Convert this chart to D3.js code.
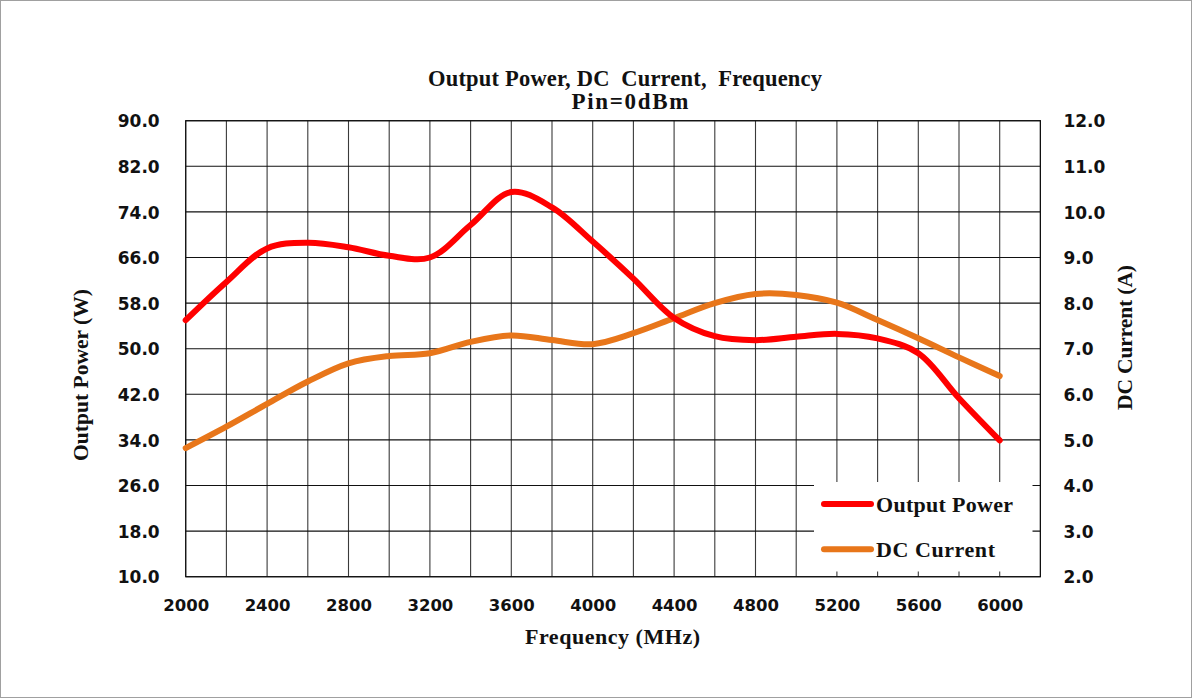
<!DOCTYPE html>
<html>
<head>
<meta charset="utf-8">
<script src="https://cdn.jsdelivr.net/npm/d3@7"></script>
<style>
  html, body { margin: 0; padding: 0; background: #fff; }
  svg { display: block; }
</style>
</head>
<body>
<svg id="chart" width="1192" height="698"></svg>
<script>
// ---- data ----
const frequency = [2000, 2200, 2400, 2600, 2800, 3000, 3200, 3400, 3600, 3800, 4000, 4200, 4400, 4600, 4800, 5000, 5200, 5400, 5600, 5800, 6000];
const outputPower = [55.0, 61.7, 67.6, 68.6, 67.8, 66.3, 66.0, 71.7, 77.5, 74.8, 68.8, 62.3, 55.4, 52.2, 51.5, 52.1, 52.6, 51.8, 49.2, 41.3, 33.9];
const dcCurrent = [4.82, 5.29, 5.79, 6.28, 6.68, 6.84, 6.90, 7.15, 7.29, 7.19, 7.10, 7.34, 7.67, 8.00, 8.20, 8.18, 8.01, 7.63, 7.23, 6.81, 6.40];
const xTickLabels = [2000, 2400, 2800, 3200, 3600, 4000, 4400, 4800, 5200, 5600, 6000];
const leftTickLabels = [10, 18, 26, 34, 42, 50, 58, 66, 74, 82, 90];
const rightTickLabels = [2, 3, 4, 5, 6, 7, 8, 9, 10, 11, 12];
const seriesNames = ["Output Power", "DC Current"];
const titleLines = ["Output Power,\u00A0DC\u00A0\u00A0Current,\u00A0\u00A0Frequency", "Pin=0dBm"];
const xTitle = "Frequency (MHz)";
const yLeftTitle = "Output Power (W)";
const yRightTitle = "DC Current (A)";

// ---- layout ----
const svg = d3.select("#chart");
const W = 1192, H = 698;
const L = 185.7, R = 1040.4, T = 120.7, B = 576.7;
const red = "#ff0000", orange = "#e8761a";
const serif = "'Liberation Serif','Times New Roman',serif";
const sans = "'DejaVu Sans',Verdana,sans-serif";

svg.append("rect").attr("x", 0.5).attr("y", 0.5).attr("width", W - 1).attr("height", H - 1)
  .attr("fill", "#fff").attr("stroke", "#a0a0a0");

const x = d3.scaleLinear().domain([2000, 6200]).range([L, R]);
const yL = d3.scaleLinear().domain([10, 90]).range([B, T]);
const yR = d3.scaleLinear().domain([2, 12]).range([B, T]);

// grid
const g = svg.append("g");
g.selectAll("line.v").data(d3.range(2000, 6201, 200)).join("line")
  .attr("x1", d => x(d)).attr("x2", d => x(d)).attr("y1", T).attr("y2", B)
  .attr("stroke", "#3a3a3a").attr("stroke-width", 1.1);
g.selectAll("line.h").data(leftTickLabels).join("line")
  .attr("x1", L).attr("x2", R).attr("y1", d => yL(d)).attr("y2", d => yL(d))
  .attr("stroke", "#111").attr("stroke-width", 1.1);
svg.append("rect").attr("x", L).attr("y", T).attr("width", R - L).attr("height", B - T)
  .attr("fill", "none").attr("stroke", "#111").attr("stroke-width", 1.2);

// axes (labels only)
const axB = d3.axisBottom(x).tickValues(xTickLabels).tickSize(0).tickPadding(0).tickFormat(d3.format("d"));
const gx = svg.append("g").attr("transform", `translate(0,${B})`).call(axB);
gx.select(".domain").remove();
gx.selectAll("text").attr("dy", 0).attr("y", 34).attr("font-family", sans).attr("font-weight", "bold")
  .attr("font-size", 16.5).attr("fill", "#111");

const axL = d3.axisLeft(yL).tickValues(leftTickLabels).tickSize(0).tickPadding(0).tickFormat(d3.format(".1f"));
const gl = svg.append("g").attr("transform", `translate(${L},0)`).call(axL);
gl.select(".domain").remove();
gl.selectAll("text").attr("x", -26).attr("dy", "0.36em").attr("font-family", sans).attr("font-weight", "bold")
  .attr("font-size", 17).attr("fill", "#111");

const axR = d3.axisRight(yR).tickValues(rightTickLabels).tickSize(0).tickPadding(0).tickFormat(d3.format(".1f"));
const gr = svg.append("g").attr("transform", `translate(${R},0)`).call(axR);
gr.select(".domain").remove();
gr.selectAll("text").attr("x", 23).attr("dy", "0.36em").attr("font-family", sans).attr("font-weight", "bold")
  .attr("font-size", 17).attr("fill", "#111");

// lines
const curve = d3.curveCatmullRom.alpha(0.5);
const powerLine = d3.line().x((d, i) => x(frequency[i])).y(d => yL(d)).curve(curve);
const currentLine = d3.line().x((d, i) => x(frequency[i])).y(d => yR(d)).curve(curve);
svg.append("path").attr("d", currentLine(dcCurrent)).attr("fill", "none")
  .attr("stroke", orange).attr("stroke-width", 6).attr("stroke-linecap", "round").attr("stroke-linejoin", "round");
svg.append("path").attr("d", powerLine(outputPower)).attr("fill", "none")
  .attr("stroke", red).attr("stroke-width", 6).attr("stroke-linecap", "round").attr("stroke-linejoin", "round");

// legend
const lg = svg.append("g");
lg.append("rect").attr("x", 814).attr("y", 482).attr("width", 218.5).attr("height", 89.5).attr("fill", "#fff");
const legendY = [504, 549.3];
const legendColors = [red, orange];
const legendW = [137, 119];
seriesNames.forEach((name, i) => {
  lg.append("line").attr("x1", 824).attr("x2", 871).attr("y1", legendY[i]).attr("y2", legendY[i])
    .attr("stroke", legendColors[i]).attr("stroke-width", 6).attr("stroke-linecap", "round");
  lg.append("text").attr("x", 876).attr("y", legendY[i] + 7.5).text(name)
    .attr("font-family", serif).attr("font-weight", "bold").attr("font-size", 22).attr("fill", "#111")
    .attr("textLength", legendW[i]).attr("lengthAdjust", "spacing");
});

// titles
svg.append("text").attr("x", 625).attr("y", 85.5).attr("text-anchor", "middle").text(titleLines[0])
  .attr("font-family", serif).attr("font-weight", "bold").attr("font-size", 22.5).attr("fill", "#111")
  .attr("textLength", 394).attr("lengthAdjust", "spacing");
svg.append("text").attr("x", 630).attr("y", 109).attr("text-anchor", "middle").text(titleLines[1])
  .attr("font-family", serif).attr("font-weight", "bold").attr("font-size", 23).attr("fill", "#111")
  .attr("textLength", 117).attr("lengthAdjust", "spacing");
svg.append("text").attr("x", 612.5).attr("y", 643.5).attr("text-anchor", "middle").text(xTitle)
  .attr("font-family", serif).attr("font-weight", "bold").attr("font-size", 22).attr("fill", "#111")
  .attr("textLength", 175).attr("lengthAdjust", "spacing");
svg.append("text").attr("transform", "translate(88,375) rotate(-90)").attr("text-anchor", "middle").text(yLeftTitle)
  .attr("font-family", serif).attr("font-weight", "bold").attr("font-size", 21.5).attr("fill", "#111")
  .attr("textLength", 172).attr("lengthAdjust", "spacing");
svg.append("text").attr("transform", "translate(1132,337.5) rotate(-90)").attr("text-anchor", "middle").text(yRightTitle)
  .attr("font-family", serif).attr("font-weight", "bold").attr("font-size", 21.5).attr("fill", "#111")
  .attr("textLength", 145).attr("lengthAdjust", "spacing");
</script>
</body>
</html>
